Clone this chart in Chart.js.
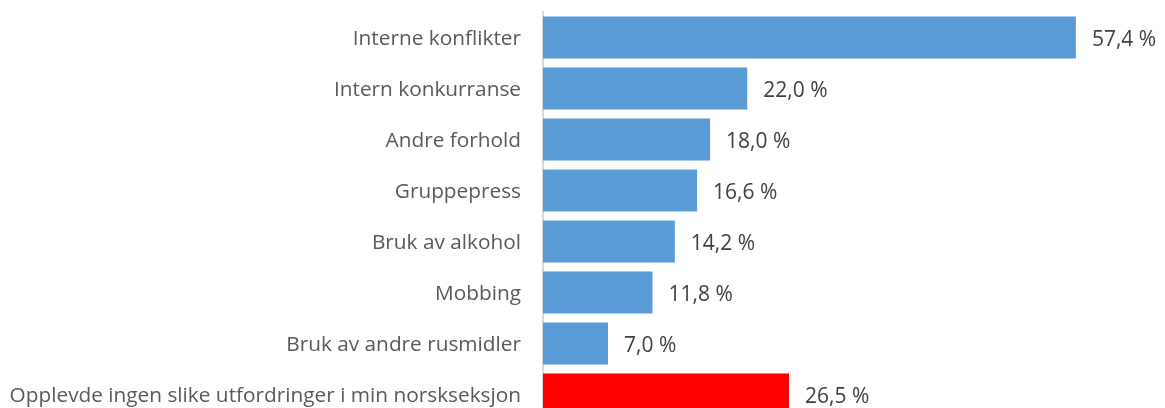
<!DOCTYPE html>
<html>
<head>
<meta charset="utf-8">
<script src="https://cdn.jsdelivr.net/npm/chart.js@4.4.1/dist/chart.umd.min.js"></script>
<style>
  html, body { margin: 0; padding: 0; background: #fff; overflow: hidden; }
</style>
</head>
<body>
<canvas id="barChart" width="1165" height="420"></canvas>
<script>
'use strict';

var categories = [
  'Interne konflikter',
  'Intern konkurranse',
  'Andre forhold',
  'Gruppepress',
  'Bruk av alkohol',
  'Mobbing',
  'Bruk av andre rusmidler',
  'Opplevde ingen slike utfordringer i min norskseksjon'
];
var values = [57.4, 22.0, 18.0, 16.6, 14.2, 11.8, 7.0, 26.5];
var barColors = ['#5B9BD5', '#5B9BD5', '#5B9BD5', '#5B9BD5', '#5B9BD5', '#5B9BD5', '#5B9BD5', '#FF0000'];

var labelColor = '#595959';
var valueColor = '#404040';
var fontFamily = '"Open Sans", sans-serif';

/* verdi-etiketter ved enden av hver stolpe */
var valueLabels = {
  id: 'valueLabels',
  afterDatasetsDraw: function(chart) {
    var ctx = chart.ctx;
    var meta = chart.getDatasetMeta(0);
    ctx.save();
    ctx.font = '21px ' + fontFamily;
    ctx.fillStyle = valueColor;
    ctx.textAlign = 'left';
    ctx.textBaseline = 'middle';
    meta.data.forEach(function(bar, i) {
      var txt = values[i].toFixed(1).replace('.', ',') + ' %';
      ctx.fillText(txt, bar.x + 16, bar.y + 3);
    });
    ctx.restore();
  }
};

var ctx = document.getElementById('barChart').getContext('2d');
var myBarChart = new Chart(ctx, {
  type: 'bar',
  data: {
    labels: categories,
    datasets: [{
      data: values,
      backgroundColor: barColors,
      borderWidth: 0,
      barPercentage: 0.82,
      categoryPercentage: 1
    }]
  },
  options: {
    indexAxis: 'y',
    responsive: false,
    animation: false,
    layout: { padding: { top: 12, right: 0, bottom: 0, left: 0 } },
    plugins: {
      legend: { display: false },
      tooltip: { enabled: false }
    },
    scales: {
      x: {
        display: false,
        min: 0,
        max: 67
      },
      y: {
        afterFit: function(scale) {
          scale.width = 543;
          scale.paddingTop = 0;
          scale.paddingBottom = 0;
        },
        grid: { display: false, drawTicks: false },
        border: { display: true, color: '#d9d9d9', width: 2 },
        ticks: {
          padding: 22,
          labelOffset: 2,
          color: labelColor,
          font: { family: fontFamily, size: 20.8 }
        }
      }
    }
  },
  plugins: [valueLabels]
});
</script>
</body>
</html>
